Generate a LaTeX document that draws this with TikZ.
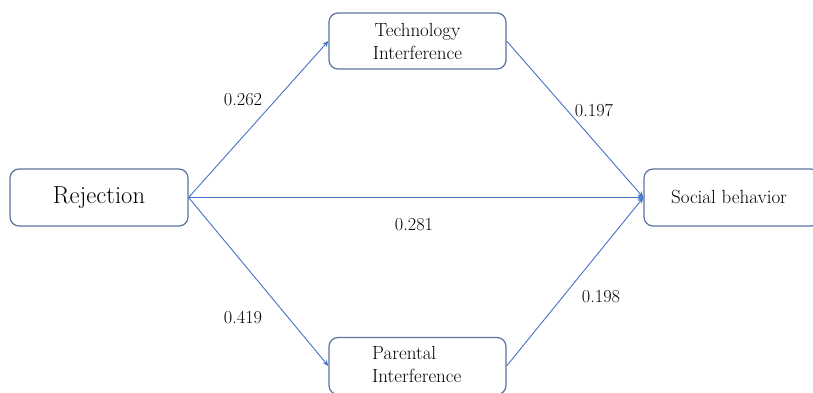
\documentclass[tikz,border=0pt]{standalone}
\usepackage{fontspec}
\usetikzlibrary{positioning,arrows.meta}
\definecolor{arrowblue}{RGB}{68,114,196}
\definecolor{boxblue}{RGB}{90,115,160}
\tikzset{>={Stealth[length=6pt,width=5pt]}}

\begin{document}
\begin{tikzpicture}[x=1pt,y=-1pt,
  box/.style={draw=boxblue,line width=1.2pt,rounded corners=9pt,fill=white},
  path/.style={->,draw=arrowblue,line width=0.9pt},
  txt/.style={font=\fontsize{19}{23}\selectfont},
  num/.style={font=\fontsize{18.3}{21}\selectfont}]
\useasboundingbox (0,0) rectangle (813,393);
\node[box,minimum width=178pt,minimum height=57pt,font=\fontsize{24.6}{28}\selectfont]
  (rej) at (99,197.5) {Rejection};
\node[box,txt,minimum width=177pt,minimum height=56pt,align=center] (tech)
  at (417.5,41) {Technology\\Interference};
\node[box,minimum width=177pt,minimum height=57pt] (par) at (417.5,366) {};
\node[txt,align=left,anchor=north west,inner sep=0pt] (partext) at (372,346)
  {Parental\\Interference};
\node[box,minimum width=176pt,minimum height=57pt] (soc) at (732,197.5) {};
\node[txt] (soctext) at (729,197.5) {Social behavior};
\draw[path] (rej.east) -- (tech.west);
\draw[path] (rej.east) -- (par.west);
\draw[path] (rej.east) -- (soc.west);
\draw[path] (tech.east) -- (soc.west);
\draw[path] (par.east) -- (soc.west);
\node[num] at (243,100) {0.262};
\node[num] at (594,110) {0.197};
\node[num] at (414,225) {0.281};
\node[num] at (243,318) {0.419};
\node[num] at (601,297) {0.198};
\end{tikzpicture}
\end{document}
